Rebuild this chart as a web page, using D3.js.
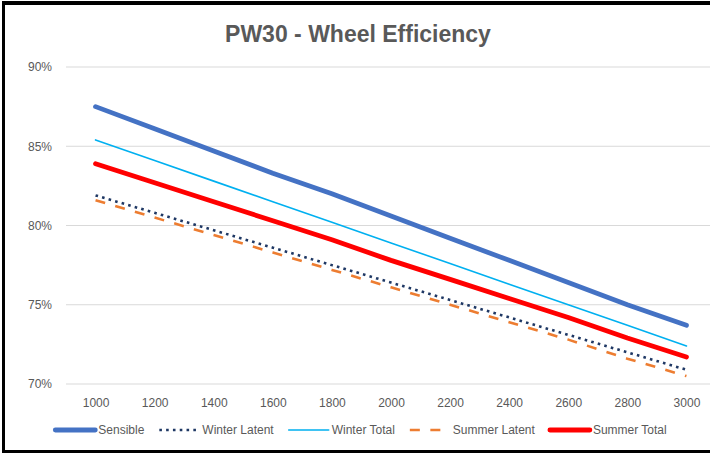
<!DOCTYPE html>
<html>
<head>
<meta charset="utf-8">
<script src="https://cdn.jsdelivr.net/npm/d3@7"></script>
<style>
  body { margin: 0; background: #fff; }
  svg { display: block; font-family: "Liberation Sans", Arial, sans-serif; }
</style>
</head>
<body>
<div id="chart"></div>
<script>
// chart data
const categories = [1000, 1200, 1400, 1600, 1800, 2000, 2200, 2400, 2600, 2800, 3000];
const sensible      = [87.5, 86.1, 84.7, 83.3, 82.0, 80.6, 79.2, 77.8, 76.4, 75.0, 73.7];
const winterLatent  = [81.9, 80.8, 79.7, 78.6, 77.5, 76.4, 75.3, 74.2, 73.1, 72.0, 70.9];
const winterTotal   = [85.4, 84.1, 82.8, 81.5, 80.2, 78.9, 77.6, 76.3, 75.0, 73.7, 72.4];
const summerLatent  = [81.6, 80.5, 79.4, 78.3, 77.2, 76.1, 75.0, 73.9, 72.8, 71.6, 70.5];
const summerTotal   = [83.9, 82.7, 81.5, 80.3, 79.1, 77.8, 76.6, 75.4, 74.2, 72.9, 71.7];
const yTicks = [70, 75, 80, 85, 90];
const seriesNames = ["Sensible", "Winter Latent", "Winter Total", "Summer Latent", "Summer Total"];

const series = [
  { name: seriesNames[0], values: sensible,     color: "#4472C4", width: 4.8, dash: null },
  { name: seriesNames[1], values: winterLatent, color: "#1F3864", width: 2.6, dash: "2.6,4.2" },
  { name: seriesNames[2], values: winterTotal,  color: "#00B0F0", width: 1.6, dash: null },
  { name: seriesNames[3], values: summerLatent, color: "#ED7D31", width: 2.6, dash: "10,10.5" },
  { name: seriesNames[4], values: summerTotal,  color: "#FF0000", width: 4.8, dash: null }
];

const W = 710, H = 453;
const margin = { top: 67, right: -6, bottom: 69, left: 66 };

const svg = d3.select("#chart").append("svg")
  .attr("width", W).attr("height", H);

svg.append("rect").attr("width", W).attr("height", H).attr("fill", "#fff");

const x = d3.scalePoint()
  .domain(categories)
  .range([margin.left, W - margin.right])
  .padding(0.5);

const y = d3.scaleLinear()
  .domain([70, 90])
  .range([H - margin.bottom, margin.top]);

// gridlines
svg.append("g")
  .selectAll("line")
  .data(yTicks)
  .join("line")
  .attr("x1", margin.left)
  .attr("x2", W - margin.right)
  .attr("y1", d => y(d))
  .attr("y2", d => y(d))
  .attr("stroke", "#d9d9d9")
  .attr("stroke-width", 1);

// y axis labels
const yAxis = d3.axisLeft(y).tickValues(yTicks)
  .tickFormat(d => d + "%").tickSize(0).tickPadding(14);
const gy = svg.append("g").attr("transform", `translate(${margin.left},0)`).call(yAxis);
gy.select(".domain").remove();
gy.selectAll("text").attr("fill", "#595959").style("font-size", "12px");

// x axis labels
const xAxis = d3.axisBottom(x).tickSize(0).tickPadding(14);
const gx = svg.append("g").attr("transform", `translate(0,${y(70)})`).call(xAxis);
gx.select(".domain").remove();
gx.selectAll("text").attr("fill", "#595959").style("font-size", "12px");

// lines
const line = d3.line()
  .x((d, i) => x(categories[i]))
  .y(d => y(d));

svg.append("g")
  .selectAll("path")
  .data(series)
  .join("path")
  .attr("d", d => line(d.values))
  .attr("fill", "none")
  .attr("stroke", d => d.color)
  .attr("stroke-width", d => d.width)
  .attr("stroke-dasharray", d => d.dash)
  .attr("stroke-linecap", d => d.dash ? "butt" : "round")
  .attr("stroke-linejoin", "round");

// title
svg.append("text")
  .attr("x", 358)
  .attr("y", 42)
  .attr("text-anchor", "middle")
  .attr("fill", "#595959")
  .style("font-size", "23px")
  .style("font-weight", "bold")
  .text("PW30 - Wheel Efficiency");

// legend
const legend = svg.append("g");
const legY = 430;
const symW = 40, gapSym = 3, gapItem = 15;
const items = legend.selectAll("g").data(series).join("g");
items.append("line")
  .attr("x1", 0).attr("x2", symW)
  .attr("y1", 0).attr("y2", 0)
  .attr("stroke", d => d.color)
  .attr("stroke-width", d => d.width)
  .attr("stroke-dasharray", d => d.dash)
  .attr("stroke-linecap", d => d.dash ? "butt" : "round");
items.append("text")
  .attr("x", symW + gapSym)
  .attr("y", 4)
  .attr("fill", "#595959")
  .style("font-size", "12px")
  .text(d => d.name);
let widths = [];
items.each(function () {
  widths.push(symW + gapSym + d3.select(this).select("text").node().getComputedTextLength());
});
const total = d3.sum(widths) + gapItem * (widths.length - 1);
let cx = 361 - total / 2;
items.attr("transform", (d, i) => {
  const t = `translate(${cx},${legY})`;
  cx += widths[i] + gapItem;
  return t;
});

// frame
svg.append("rect").attr("x", 2).attr("y", 1).attr("width", W - 2).attr("height", 4).attr("fill", "#000");
svg.append("rect").attr("x", 2).attr("y", 1).attr("width", 3).attr("height", H - 1).attr("fill", "#000");
svg.append("rect").attr("x", 2).attr("y", 450).attr("width", W - 2).attr("height", 3).attr("fill", "#000");
</script>
</body>
</html>
